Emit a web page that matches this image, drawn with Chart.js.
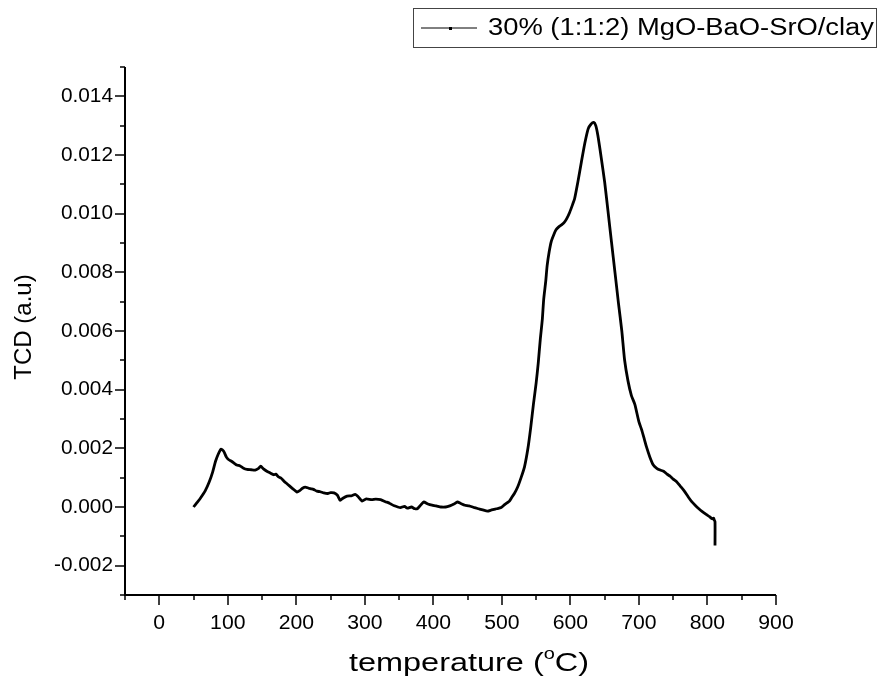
<!DOCTYPE html>
<html>
<head>
<meta charset="utf-8">
<script src="https://cdn.jsdelivr.net/npm/chart.js@4"></script>
<style>
  html, body { margin: 0; padding: 0; background: #fff; }
  #wrap { width: 878px; height: 686px; }
</style>
</head>
<body>
<div id="wrap"><canvas id="grafico" width="878" height="686"></canvas></div>
<script>
// temperature (C) and TCD signal
const temperatura = [
  50, 55, 60, 67, 73, 78, 82, 86, 90, 94, 98, 101, 106, 110, 113, 118, 123, 128, 134, 140,
  145, 148, 152, 157, 162, 167, 170, 174, 178, 182, 186, 190, 195, 201, 205, 209, 213, 218, 222, 225,
  230, 235, 240, 246, 250, 255, 260, 264, 268, 274, 280, 286, 290, 296, 302, 310, 316, 323, 330, 334,
  338, 343, 348, 352, 358, 362, 368, 373, 377, 382, 386, 392, 398, 404, 411, 418, 424, 430, 435, 440,
  446, 452, 460, 466, 472, 479, 485, 492, 499, 504, 508, 511, 515, 518, 523, 528, 533, 538, 542, 546,
  550, 553, 556, 559, 561, 564, 566, 569, 572, 576, 579, 583, 587, 591, 595, 599, 603, 606, 611, 616,
  621, 626, 630, 634, 637, 640, 645, 650, 655, 660, 665, 670, 675, 679, 684, 689, 694, 700, 704, 708,
  711, 716, 721, 726, 731, 736, 741, 746, 750, 755, 760, 766, 772, 777, 782, 787, 792, 798, 803, 807,
  809, 810, 811, 811
];
const tcd = [
  0.0000, 0.00015, 0.0003, 0.00055, 0.00086, 0.0012, 0.00155, 0.0018, 0.00197, 0.0019, 0.0017, 0.00162, 0.00155, 0.00148, 0.00143, 0.0014, 0.00132, 0.00128, 0.00127, 0.00126,
  0.00132, 0.00139, 0.0013, 0.00122, 0.00116, 0.0011, 0.00112, 0.00103, 0.00098, 0.00088, 0.0008, 0.00072, 0.00062, 0.00051, 0.00056, 0.00064, 0.00068, 0.00064, 0.00062, 0.0006,
  0.00054, 0.00052, 0.00048, 0.00046, 0.00049, 0.00048, 0.0004, 0.00023, 0.0003, 0.00037, 0.00038, 0.00043, 0.00036, 0.0002, 0.00028, 0.00025, 0.00027, 0.00025, 0.00018, 0.00015,
  0.0001, 0.00004, 0.0, -0.00002, 0.00002, -0.00004, 0.0, -0.00006, -0.00005, 0.00008, 0.00017, 0.0001, 0.00006, 0.00004, 0.0, 0.0, 0.00004, 0.0001, 0.00017, 0.00012,
  0.00006, 0.00004, -0.00002, -0.00006, -0.0001, -0.00014, -0.0001, -0.00006, -0.00002, 0.00008, 0.00015, 0.0002, 0.00035, 0.00045, 0.00068, 0.001, 0.00137, 0.002, 0.0027, 0.0035,
  0.00423, 0.0049, 0.00571, 0.0064, 0.00708, 0.0077, 0.00822, 0.0087, 0.00905, 0.0093, 0.00945, 0.00955, 0.00962, 0.0097, 0.00985, 0.01005, 0.0103, 0.0105, 0.0111, 0.01176,
  0.0124, 0.0129, 0.01305, 0.01311, 0.013, 0.01267, 0.0119, 0.01107, 0.01005, 0.00902, 0.008, 0.00697, 0.006, 0.00502, 0.0043, 0.0038, 0.0035, 0.0029, 0.00263, 0.0023,
  0.00205, 0.0017, 0.00143, 0.00132, 0.00126, 0.00122, 0.00112, 0.00104, 0.00095, 0.00086, 0.00072, 0.00055, 0.00034, 0.00018, 0.00006, -0.00005, -0.00015, -0.00025, -0.00033, -0.0004,
  -0.00038, -0.00045, -0.0005, -0.00131
];

const xTicks = [0, 100, 200, 300, 400, 500, 600, 700, 800, 900];
const xMinor = [-50, 50, 150, 250, 350, 450, 550, 650, 750, 850];
const yTicks = [-0.002, 0.000, 0.002, 0.004, 0.006, 0.008, 0.010, 0.012, 0.014];
const yMinor = [-0.003, -0.001, 0.001, 0.003, 0.005, 0.007, 0.009, 0.011, 0.013, 0.015];

const serieLabel = '30% (1:1:2) MgO-BaO-SrO/clay';
const xTitle = ['temperature (', 'o', 'C)'];
const yTitle = 'TCD (a.u)';

const fonte = '"Liberation Sans", Arial, sans-serif';

const pontos = temperatura.map((t, i) => ({ x: t, y: tcd[i] }));

// Origin-like axes, ticks, titles and boxed legend
const eixosOrigin = {
  id: 'eixosOrigin',
  afterDraw(chart) {
    const c = chart.ctx;
    const a = chart.chartArea;
    const sx = chart.scales.x;
    const sy = chart.scales.y;
    c.save();
    c.strokeStyle = '#000';
    c.fillStyle = '#000';
    c.lineWidth = 2;

    // axis lines
    c.beginPath();
    c.moveTo(a.left, a.top);
    c.lineTo(a.left, a.bottom);
    c.lineTo(a.right, a.bottom);
    c.stroke();

    // x ticks
    c.lineWidth = 1.5;
    xTicks.forEach(v => {
      const px = Math.round(sx.getPixelForValue(v));
      c.beginPath(); c.moveTo(px, a.bottom); c.lineTo(px, a.bottom + 10); c.stroke();
    });
    xMinor.forEach(v => {
      const px = Math.round(sx.getPixelForValue(v));
      c.beginPath(); c.moveTo(px, a.bottom); c.lineTo(px, a.bottom + 5); c.stroke();
    });
    // y ticks
    yTicks.forEach(v => {
      const py = Math.round(sy.getPixelForValue(v));
      c.beginPath(); c.moveTo(a.left, py); c.lineTo(a.left - 10, py); c.stroke();
    });
    yMinor.forEach(v => {
      const py = Math.round(sy.getPixelForValue(v));
      c.beginPath(); c.moveTo(a.left, py); c.lineTo(a.left - 5, py); c.stroke();
    });

    // tick labels
    c.font = '20px ' + fonte;
    c.textAlign = 'center';
    c.textBaseline = 'middle';
    xTicks.forEach(v => {
      c.save();
      c.translate(sx.getPixelForValue(v), a.bottom + 28);
      c.scale(1.06, 1);
      c.fillText(String(v), 0, 0);
      c.restore();
    });
    c.textAlign = 'right';
    yTicks.forEach(v => {
      c.save();
      c.translate(a.left - 12, sy.getPixelForValue(v));
      c.scale(1.04, 1);
      c.fillText(v.toFixed(3), 0, 0);
      c.restore();
    });

    // y title
    c.font = '24px ' + fonte;
    c.save();
    c.translate(24, (a.top + a.bottom) / 2 - 4);
    c.rotate(-Math.PI / 2);
    c.textAlign = 'center';
    c.fillText(yTitle, 0, 0);
    c.restore();

    // x title with superscript o, slightly stretched like the Origin export
    c.textAlign = 'left';
    c.textBaseline = 'alphabetic';
    const fGrande = '26px ' + fonte, fPeq = '16px ' + fonte;
    c.font = fGrande; const w1 = c.measureText(xTitle[0]).width;
    c.font = fPeq; const w2 = c.measureText(xTitle[1]).width;
    c.font = fGrande; const w3 = c.measureText(xTitle[2]).width;
    const largura = 240;
    const k = largura / (w1 + w2 + w3);
    c.save();
    c.translate(469 - largura / 2, 671);
    c.scale(k, 1);
    c.font = fGrande; c.fillText(xTitle[0], 0, 0);
    c.font = fPeq; c.fillText(xTitle[1], w1, -12);
    c.font = fGrande; c.fillText(xTitle[2], w1 + w2, 0);
    c.restore();

    // legend box
    c.lineWidth = 1;
    c.strokeStyle = '#444';
    c.strokeRect(413.5, 8.5, 463, 39);
    c.strokeStyle = '#000';
    c.beginPath(); c.moveTo(421, 28); c.lineTo(477, 28); c.stroke();
    c.fillRect(449, 27, 3, 3);
    c.font = '23px ' + fonte;
    c.textBaseline = 'middle';
    const wl = c.measureText(serieLabel).width;
    c.save();
    c.translate(488, 29);
    c.scale(386 / wl, 1);
    c.fillText(serieLabel, 0, 0);
    c.restore();

    c.restore();
  }
};

const config = {
  type: 'scatter',
  data: {
    datasets: [{
      label: serieLabel,
      data: pontos,
      showLine: true,
      borderColor: '#000',
      backgroundColor: '#000',
      borderWidth: 2.8,
      pointRadius: 0,
      tension: 0.2
    }]
  },
  options: {
    responsive: false,
    animation: false,
    layout: { padding: { left: 125, top: 67, right: 102, bottom: 91 } },
    plugins: {
      legend: { display: false },
      tooltip: { enabled: false },
      title: { display: false }
    },
    scales: {
      x: { type: 'linear', min: -50, max: 900, display: false },
      y: { type: 'linear', min: -0.003, max: 0.015, display: false }
    }
  },
  plugins: [eixosOrigin]
};

const myChart = new Chart(document.getElementById('grafico').getContext('2d'), config);
</script>
</body>
</html>
